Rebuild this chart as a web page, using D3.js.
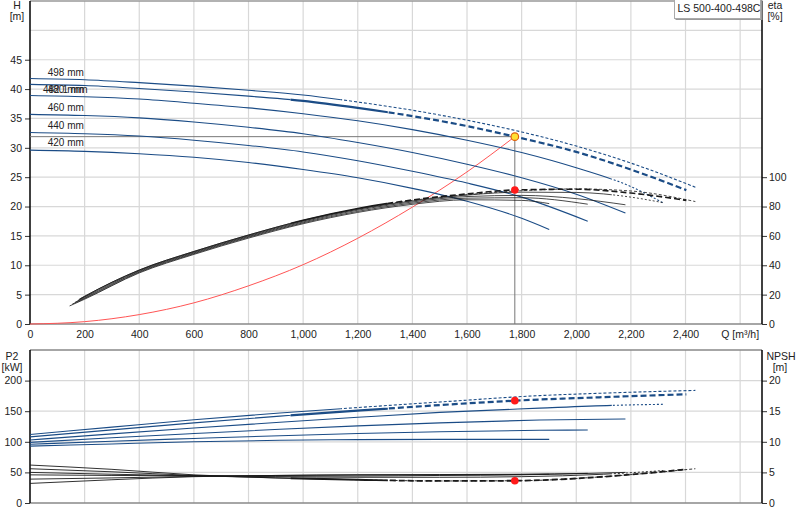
<!DOCTYPE html>
<html>
<head>
<meta charset="utf-8">
<script src="https://cdn.jsdelivr.net/npm/d3@7"></script>
<style>
  body { margin: 0; background: #fff; }
  svg { display: block; font-family: "Liberation Sans", Arial, sans-serif; }
</style>
</head>
<body>
<svg id="chart" width="800" height="520"></svg>
<script>
// --------------------------------------------------------------------------------------------
// Data (Q in m3/h)

const pumpName = "LS 500-400-498C";
const diameterLabels = ["498 mm", "482.1 mm", "480 mm", "460 mm", "440 mm", "420 mm"];

// head H [m]
const headQ498 = [0, 200, 400, 600, 800, 1000, 1200, 1400, 1600, 1800, 2000, 2200, 2436];
const head498  = [41.8, 41.6, 41.1, 40.5, 39.8, 39.0, 37.8, 36.4, 34.7, 32.7, 30.3, 27.4, 23.3];
const headQ482 = [0, 200, 400, 600, 800, 1000, 1200, 1400, 1600, 1775, 2000, 2200, 2403];
const head482  = [40.8, 40.6, 40.1, 39.5, 38.8, 38.0, 36.8, 35.4, 33.7, 31.9, 29.3, 26.3, 22.8];
const headQ480 = [0, 200, 400, 600, 800, 1000, 1200, 1400, 1600, 1800, 2000, 2200, 2319];
const head480  = [38.9, 38.7, 38.3, 37.6, 36.8, 35.8, 34.6, 33.1, 31.3, 29.2, 26.6, 23.4, 20.6];
const headQ460 = [0, 200, 400, 600, 800, 1000, 1200, 1400, 1600, 1800, 2000, 2180];
const head460  = [35.7, 35.5, 35.1, 34.4, 33.5, 32.4, 30.9, 29.2, 27.2, 24.9, 22.1, 18.9];
const headQ440 = [0, 200, 400, 600, 800, 1000, 1200, 1400, 1600, 1800, 2042];
const head440  = [32.6, 32.4, 32.0, 31.3, 30.4, 29.3, 27.8, 26.0, 24.0, 21.6, 17.5];
const headQ420 = [0, 200, 400, 600, 800, 1000, 1200, 1400, 1600, 1800, 1901];
const head420  = [29.6, 29.4, 29.0, 28.4, 27.5, 26.3, 24.9, 23.1, 20.9, 18.0, 16.1];

// efficiency eta [%]
const etaQ498 = [185, 200, 400, 600, 800, 1000, 1200, 1400, 1600, 1800, 2000, 2200, 2436];
const eta498  = [17.2, 18.8, 36.7, 49.4, 60.6, 70.6, 78.5, 84.2, 88.1, 90.8, 92.0, 90.6, 83.4];
const etaQ482 = [180, 200, 400, 600, 800, 1000, 1200, 1400, 1600, 1775, 2000, 2200, 2403];
const eta482  = [16.9, 18.9, 36.8, 49.4, 60.6, 70.7, 78.7, 84.5, 88.6, 91.3, 91.8, 89.2, 84.2];
const etaQ480 = [175, 200, 400, 600, 800, 1000, 1200, 1400, 1600, 1800, 2000, 2200, 2319];
const eta480  = [16.0, 18.4, 36.3, 48.9, 60.1, 70.1, 78.1, 83.8, 87.8, 89.8, 89.6, 86.4, 82.6];
const etaQ460 = [165, 200, 400, 600, 800, 1000, 1200, 1400, 1600, 1800, 2000, 2180];
const eta460  = [14.8, 17.9, 35.8, 48.4, 59.6, 69.5, 77.5, 83.1, 86.8, 87.6, 85.4, 81.2];
const etaQ440 = [155, 200, 400, 600, 800, 1000, 1200, 1400, 1600, 1800, 2042];
const eta440  = [13.6, 17.4, 35.3, 47.9, 59.1, 68.9, 76.7, 82.3, 85.7, 86.0, 81.6];
const etaQ420 = [145, 200, 400, 600, 800, 1000, 1200, 1400, 1600, 1800, 1901];
const eta420  = [12.3, 16.9, 34.8, 47.4, 58.5, 68.3, 76.0, 81.5, 84.6, 84.2, 82.0];

// shaft power P2 [kW]
const p2Q498 = [0, 300, 600, 915, 1200, 1500, 1866, 2100, 2436];
const p2498  = [112, 124, 136, 147, 156, 165, 175.5, 179.5, 184];
const p2Q482 = [0, 300, 600, 915, 1200, 1500, 1775, 2100, 2403];
const p2482  = [108, 119.5, 131, 142, 151, 160, 167.2, 173, 177.6];
const p2Q480 = [0, 300, 600, 915, 1200, 1500, 1866, 2130, 2319];
const p2480  = [103, 113, 122.5, 132, 140, 148, 155, 159.5, 161.3];
const p2Q460 = [0, 300, 600, 915, 1200, 1500, 1866, 2180];
const p2460  = [99, 106.5, 113.5, 120.5, 126, 131, 135.6, 137.3];
const p2Q440 = [0, 300, 600, 915, 1200, 1500, 1866, 2042];
const p2440  = [96, 101, 105.5, 110, 113.5, 116.5, 118.8, 119.3];
const p2Q420 = [0, 300, 600, 915, 1200, 1500, 1901];
const p2420  = [93, 96.5, 100, 102.5, 103.5, 104, 104];

// NPSH [m]
const npshQ498 = [0, 300, 600, 900, 1200, 1500, 1800, 2100, 2436];
const npsh498  = [6.2, 5.5, 4.6, 4.1, 3.8, 3.6, 3.65, 4.3, 5.6];
const npshQ482 = [0, 300, 600, 900, 1200, 1500, 1775, 2100, 2403];
const npsh482  = [5.6, 5.1, 4.5, 4.1, 3.8, 3.6, 3.64, 4.3, 5.5];
const npshQ480 = [0, 300, 600, 900, 1200, 1500, 1800, 2100, 2319];
const npsh480  = [5.0, 4.7, 4.45, 4.3, 4.2, 4.2, 4.3, 4.7, 5.3];
const npshQ460 = [0, 300, 600, 900, 1200, 1500, 1800, 2180];
const npsh460  = [4.6, 4.5, 4.45, 4.4, 4.4, 4.5, 4.6, 5.0];
const npshQ440 = [0, 300, 600, 900, 1200, 1500, 1800, 2042];
const npsh440  = [3.9, 4.1, 4.35, 4.5, 4.6, 4.65, 4.7, 4.85];
const npshQ420 = [0, 300, 600, 900, 1200, 1500, 1901];
const npsh420  = [3.2, 3.8, 4.3, 4.5, 4.6, 4.6, 4.7];

// system curve and duty point
const systemQ = [0, 200, 400, 600, 800, 1000, 1200, 1400, 1600, 1775];
const systemH = [0, 0.4, 1.6, 3.6, 6.5, 10.1, 14.6, 19.9, 25.9, 31.9];
const dutyQ = 1775, dutyH = 31.9, dutyEta = 91.3, dutyP2 = 167.2, dutyNpsh = 3.64;

// axis ticks
const qTicks = [0, 200, 400, 600, 800, 1000, 1200, 1400, 1600, 1800, 2000, 2200, 2400];
const hTicks = [0, 5, 10, 15, 20, 25, 30, 35, 40, 45];
const etaTicks = [0, 20, 40, 60, 80, 100];
const p2Ticks = [0, 50, 100, 150, 200];
const npshTicks = [0, 5, 10, 15, 20];

// --------------------------------------------------------------------------------------------
// Scales

const svg = d3.select("#chart");
const x = d3.scaleLinear().domain([0, 2680]).range([30, 762]);
const yH = d3.scaleLinear().domain([0, 55]).range([324, 1]);
const yEta = d3.scaleLinear().domain([0, 220]).range([324, 1]);
const yP2 = d3.scaleLinear().domain([0, 250]).range([503, 350]);
const yNpsh = d3.scaleLinear().domain([0, 25]).range([503, 350]);

const blue = "#1b4c86";
const black = "#1a1a1a";
const fontSize = "10.5px";

// --------------------------------------------------------------------------------------------
// Grid

const grid = svg.append("g").attr("stroke", "#d8d8d8").attr("stroke-width", 1.2);
d3.range(200, 2700, 200).forEach(q => {
    grid.append("line").attr("x1", x(q)).attr("x2", x(q)).attr("y1", yH(55)).attr("y2", yH(0));
    grid.append("line").attr("x1", x(q)).attr("x2", x(q)).attr("y1", yP2(250)).attr("y2", yP2(0));
});
d3.range(5, 55, 5).forEach(h => {
    grid.append("line").attr("x1", x(0)).attr("x2", x(2680)).attr("y1", yH(h)).attr("y2", yH(h));
});
d3.range(50, 250, 50).forEach(p => {
    grid.append("line").attr("x1", x(0)).attr("x2", x(2680)).attr("y1", yP2(p)).attr("y2", yP2(p));
});

// frames
svg.append("line").attr("x1", 30).attr("x2", 762).attr("y1", 1).attr("y2", 1).attr("stroke", "#999").attr("stroke-width", 1.5);
svg.append("line").attr("x1", 30).attr("x2", 762).attr("y1", yH(0)).attr("y2", yH(0)).attr("stroke", "#888").attr("stroke-width", 1.5);
svg.append("line").attr("x1", 30).attr("x2", 762).attr("y1", 350).attr("y2", 350).attr("stroke", "#888").attr("stroke-width", 1.5);
svg.append("line").attr("x1", 30).attr("x2", 762).attr("y1", yP2(0)).attr("y2", yP2(0)).attr("stroke", "#888").attr("stroke-width", 1.5);

// --------------------------------------------------------------------------------------------
// Axes

function styleAxis(g) {
    g.select(".domain").remove();
    g.selectAll("text").attr("font-size", fontSize).attr("fill", "#222").attr("font-family", null);
    g.selectAll("line").attr("stroke", "#333");
}

svg.append("g").attr("transform", "translate(30,0)")
    .call(d3.axisLeft(yH).tickValues(hTicks).tickSize(5).tickPadding(3)).call(styleAxis);
svg.append("g").attr("transform", "translate(762,0)")
    .call(d3.axisRight(yEta).tickValues(etaTicks).tickSize(5).tickPadding(2)).call(styleAxis);
svg.append("g").attr("transform", "translate(0," + yH(0) + ")")
    .call(d3.axisBottom(x).tickValues(qTicks).tickSize(0).tickPadding(7).tickFormat(d3.format(","))).call(styleAxis);
svg.append("g").attr("transform", "translate(30,0)")
    .call(d3.axisLeft(yP2).tickValues(p2Ticks).tickSize(5).tickPadding(3)).call(styleAxis);
svg.append("g").attr("transform", "translate(762,0)")
    .call(d3.axisRight(yNpsh).tickValues(npshTicks).tickSize(5).tickPadding(2)).call(styleAxis);

// vertical axis lines
[[yH(55), yH(0)], [350, yP2(0)]].forEach(r => {
    svg.append("line").attr("x1", 30).attr("x2", 30).attr("y1", r[0]).attr("y2", r[1]).attr("stroke", "#000").attr("stroke-width", 1.5);
    svg.append("line").attr("x1", 762).attr("x2", 762).attr("y1", r[0]).attr("y2", r[1]).attr("stroke", "#000").attr("stroke-width", 1.5);
});

// axis titles
const titles = svg.append("g").attr("font-size", fontSize).attr("fill", "#222").attr("text-anchor", "middle");
titles.append("text").attr("x", 17).attr("y", 9).text("H");
titles.append("text").attr("x", 17).attr("y", 20).text("[m]");
titles.append("text").attr("x", 775).attr("y", 9).text("eta");
titles.append("text").attr("x", 775).attr("y", 20).text("[%]");
titles.append("text").attr("x", 12).attr("y", 360).text("P2");
titles.append("text").attr("x", 12).attr("y", 371).text("[kW]");
titles.append("text").attr("x", 781).attr("y", 360).text("NPSH");
titles.append("text").attr("x", 780).attr("y", 371).text("[m]");
titles.append("text").attr("x", x(2600)).attr("y", 338).text("Q [m³/h]");

// pump name box
svg.append("rect").attr("x", 675.5).attr("y", -2).attr("width", 87).attr("height", 22).attr("fill", "#999");
svg.append("rect").attr("x", 674.5).attr("y", -2).attr("width", 86).attr("height", 20.5)
    .attr("fill", "#fff").attr("stroke", "#aaa").attr("stroke-width", 1);
svg.append("text").attr("x", 677.5).attr("y", 12).attr("font-size", fontSize).attr("fill", "#222").text(pumpName);

// --------------------------------------------------------------------------------------------
// Clip regions used to switch line styles along the Q axis

const defs = svg.append("defs");
function clipRange(id, q0, q1) {
    defs.append("clipPath").attr("id", id).append("rect")
        .attr("x", x(q0)).attr("y", 0).attr("width", x(q1) - x(q0)).attr("height", 520);
    return "url(#" + id + ")";
}

const styles = {
    d498: [{ from: 0, to: 1136, w: 1, dash: null }, { from: 1136, to: 2680, w: 1, dash: "3,2" }],
    d482: [{ from: 0, to: 954, w: 1, dash: null }, { from: 954, to: 1310, w: 2, dash: null }, { from: 1310, to: 2680, w: 2, dash: "6,3" }],
    d480: [{ from: 0, to: 2130, w: 1, dash: null }, { from: 2130, to: 2680, w: 1, dash: "2,2" }],
    d460: [{ from: 0, to: 2680, w: 1, dash: null }],
    d440: [{ from: 0, to: 2680, w: 1, dash: null }],
    d420: [{ from: 0, to: 2680, w: 1, dash: null }]
};

let clipId = 0;
function drawCurve(g, qs, vs, yScale, key, color, widthScale) {
    const pts = qs.map((q, i) => [x(q), yScale(vs[i])]);
    const line = d3.line().curve(d3.curveMonotoneX);
    styles[key].forEach(s => {
        g.append("path")
            .attr("d", line(pts))
            .attr("fill", "none")
            .attr("stroke", color)
            .attr("stroke-width", s.w * widthScale)
            .attr("stroke-dasharray", s.dash)
            .attr("clip-path", clipRange("c" + (clipId++), s.from, s.to));
    });
}

// --------------------------------------------------------------------------------------------
// Duty point guide lines and system curve

svg.append("line").attr("x1", x(0)).attr("x2", x(dutyQ)).attr("y1", yH(dutyH)).attr("y2", yH(dutyH))
    .attr("stroke", "#777").attr("stroke-width", 1);
svg.append("line").attr("x1", x(dutyQ)).attr("x2", x(dutyQ)).attr("y1", yH(dutyH)).attr("y2", yH(0))
    .attr("stroke", "#777").attr("stroke-width", 1);

svg.append("path")
    .attr("d", d3.line().curve(d3.curveMonotoneX)(systemQ.map((q, i) => [x(q), yH(systemH[i])])))
    .attr("fill", "none").attr("stroke", "#ff5555").attr("stroke-width", 1);

// --------------------------------------------------------------------------------------------
// Curves

const curves = svg.append("g");
drawCurve(curves, headQ498, head498, yH, "d498", blue, 1.1);
drawCurve(curves, headQ482, head482, yH, "d482", blue, 1.1);
drawCurve(curves, headQ480, head480, yH, "d480", blue, 1.1);
drawCurve(curves, headQ460, head460, yH, "d460", blue, 1.1);
drawCurve(curves, headQ440, head440, yH, "d440", blue, 1.1);
drawCurve(curves, headQ420, head420, yH, "d420", blue, 1.1);

drawCurve(curves, etaQ498, eta498, yEta, "d498", black, 0.8);
drawCurve(curves, etaQ482, eta482, yEta, "d482", black, 0.8);
drawCurve(curves, etaQ480, eta480, yEta, "d480", black, 0.8);
drawCurve(curves, etaQ460, eta460, yEta, "d460", black, 0.8);
drawCurve(curves, etaQ440, eta440, yEta, "d440", black, 0.8);
drawCurve(curves, etaQ420, eta420, yEta, "d420", black, 0.8);

drawCurve(curves, p2Q498, p2498, yP2, "d498", blue, 1.1);
drawCurve(curves, p2Q482, p2482, yP2, "d482", blue, 1.1);
drawCurve(curves, p2Q480, p2480, yP2, "d480", blue, 1.1);
drawCurve(curves, p2Q460, p2460, yP2, "d460", blue, 1.1);
drawCurve(curves, p2Q440, p2440, yP2, "d440", blue, 1.1);
drawCurve(curves, p2Q420, p2420, yP2, "d420", blue, 1.1);

drawCurve(curves, npshQ498, npsh498, yNpsh, "d498", black, 0.9);
drawCurve(curves, npshQ482, npsh482, yNpsh, "d482", black, 0.9);
drawCurve(curves, npshQ480, npsh480, yNpsh, "d480", black, 0.9);
drawCurve(curves, npshQ460, npsh460, yNpsh, "d460", black, 0.9);
drawCurve(curves, npshQ440, npsh440, yNpsh, "d440", black, 0.9);
drawCurve(curves, npshQ420, npsh420, yNpsh, "d420", black, 0.9);

// diameter labels (480 mm and 482.1 mm overlap, as in the source chart)
const labels = svg.append("g").attr("font-size", "10px").attr("fill", "#222");
const labelPos = [[47.7, 76], [43, 93], [47.7, 92.5], [47.7, 110.5], [47.7, 128.5], [47.7, 145.5]];
diameterLabels.forEach((t, i) => {
    labels.append("text").attr("x", labelPos[i][0]).attr("y", labelPos[i][1]).text(t);
});

// --------------------------------------------------------------------------------------------
// Duty point markers

svg.append("circle").attr("cx", x(dutyQ)).attr("cy", yEta(dutyEta)).attr("r", 3.8).attr("fill", "#ff1a1a");
svg.append("circle").attr("cx", x(dutyQ)).attr("cy", yP2(dutyP2)).attr("r", 3.8).attr("fill", "#ff1a1a");
svg.append("circle").attr("cx", x(dutyQ)).attr("cy", yNpsh(dutyNpsh)).attr("r", 3.8).attr("fill", "#ff1a1a");
svg.append("circle").attr("cx", x(dutyQ)).attr("cy", yH(dutyH)).attr("r", 3.8)
    .attr("fill", "#ffe033").attr("stroke", "#e06010").attr("stroke-width", 1.2);
</script>
</body>
</html>
